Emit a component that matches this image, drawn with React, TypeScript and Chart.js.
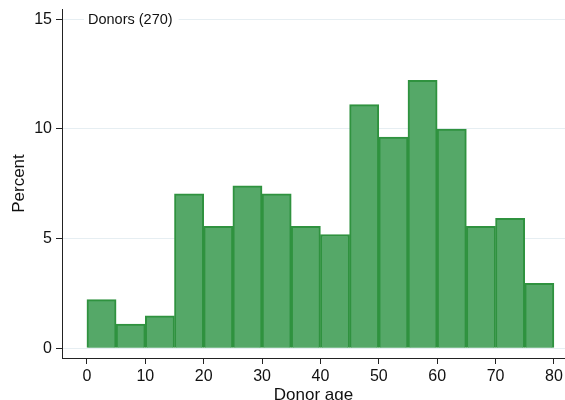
import { useEffect, useRef } from "react";
import { Chart, registerables } from "chart.js";

Chart.register(...registerables);

// Histogram of donor age, bin width 5 years
const binStarts = [0, 5, 10, 15, 20, 25, 30, 35, 40, 45, 50, 55, 60, 65, 70, 75];
const binWidth = 5;
const percents = [2.22, 1.11, 1.48, 7.04, 5.56, 7.41, 7.04, 5.56, 5.19, 11.11, 9.63, 12.22, 10.0, 5.56, 5.93, 2.96];
const seriesLabel = "Donors (270)";
const xTicks = [0, 10, 20, 30, 40, 50, 60, 70, 80];
const yTicks = [0, 5, 10, 15];
const xTitle = "Donor age";
const yTitle = "Percent";

const FONT = "'Liberation Sans', Arial, sans-serif";
const TEXT = "#111111";
const AXIS = "#222222";

const labelPlugin = {
  id: "seriesLabel",
  afterDraw(chart: any) {
    const { ctx, chartArea } = chart;
    ctx.save();
    ctx.font = `14.5px ${FONT}`;
    const w = ctx.measureText(seriesLabel).width;
    const x = chartArea.left + 26;
    const y = chartArea.top + 11;
    ctx.fillStyle = "#ffffff";
    ctx.fillRect(x - 4, y - 9, w + 10, 18);
    ctx.fillStyle = TEXT;
    ctx.textBaseline = "middle";
    ctx.textAlign = "left";
    ctx.fillText(seriesLabel, x, y);
    ctx.restore();
  },
};

export default function App() {
  const ref = useRef<HTMLCanvasElement | null>(null);

  useEffect(() => {
    document.body.style.margin = "0";
    if (!ref.current) return;
    const chart = new Chart(ref.current, {
      type: "bar",
      data: {
        datasets: [
          {
            label: seriesLabel,
            data: binStarts.map((s, i) => ({ x: s + binWidth / 2, y: percents[i] })),
            backgroundColor: "#55a868",
            borderColor: "#2f923f",
            borderWidth: 2,
            barPercentage: 1,
            categoryPercentage: 1,
          },
        ],
      },
      options: {
        responsive: false,
        animation: false,
        layout: { padding: { top: 9, right: 0, left: 0, bottom: 0 } },
        plugins: {
          legend: { display: false },
          tooltip: { enabled: false },
        },
        scales: {
          x: {
            type: "linear",
            min: -4.27,
            max: 81.9,
            offset: false,
            grid: {
              display: true,
              offset: false,
              drawOnChartArea: false,
              drawTicks: true,
              tickLength: 6,
              tickColor: AXIS,
            },
            border: { display: true, color: AXIS, width: 1 },
            ticks: {
              font: { family: FONT, size: 16 },
              color: TEXT,
              padding: 3,
              maxRotation: 0,
              autoSkip: false,
            },
            afterBuildTicks: (s: any) => {
              s.ticks = xTicks.map((v) => ({ value: v }));
            },
            afterFit: (s: any) => {
              s.height = 42;
              s.paddingLeft = 0;
              s.paddingRight = 0;
            },
            title: {
              display: true,
              text: xTitle,
              font: { family: FONT, size: 17 },
              color: TEXT,
              padding: { top: 0, bottom: -6 },
            },
          },
          y: {
            type: "linear",
            min: -0.44,
            max: 15.47,
            grid: {
              display: true,
              color: "#e6eef2",
              lineWidth: 1,
              drawTicks: true,
              tickLength: 6,
              tickColor: AXIS,
            },
            border: { display: true, color: AXIS, width: 1 },
            ticks: {
              font: { family: FONT, size: 16 },
              color: TEXT,
              padding: 4,
            },
            afterBuildTicks: (s: any) => {
              s.ticks = yTicks.map((v) => ({ value: v }));
            },
            afterFit: (s: any) => {
              s.width = 62;
              s.paddingTop = 0;
              s.paddingBottom = 0;
            },
            title: {
              display: true,
              text: yTitle,
              font: { family: FONT, size: 17 },
              color: TEXT,
              padding: { top: 9, bottom: 0 },
            },
          },
        },
      },
      plugins: [labelPlugin],
    });
    return () => chart.destroy();
  }, []);

  return (
    <div style={{ width: 565, height: 400 }}>
      <canvas ref={ref} width={565} height={400} />
    </div>
  );
}
